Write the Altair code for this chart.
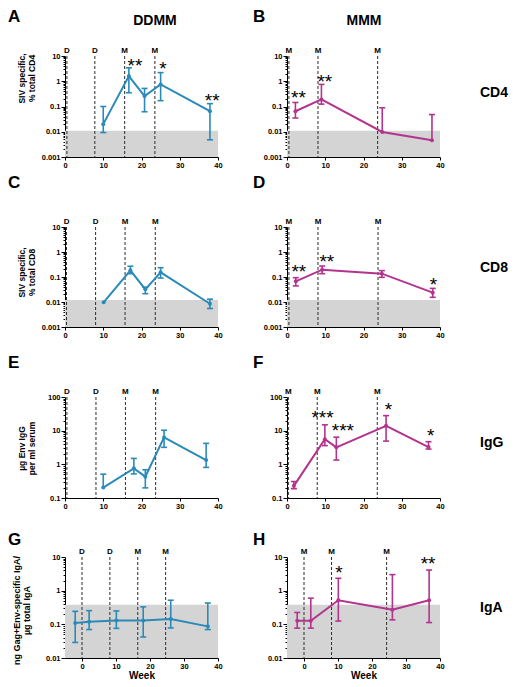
import altair as alt
import pandas as pd

FONT = "Liberation Sans"
BLUE = "#2a8ab8"
MAGENTA = "#b2348f"
SHADE = "#d4d4d4"
DASH = "#2b2b2b"

X_TICKS = [0, 10, 20, 30, 40]

# ---------------- A : DDMM / CD4 ----------------
A_week = [10, 16.7, 20.8, 25.0, 37.9]
A_val = [0.02, 1.6, 0.26, 0.75, 0.065]
A_hi = [0.1, 3.4, 0.52, 2.2, 0.13]
A_lo = [0.0093, 0.35, 0.062, 0.17, 0.0048]
A_vline = [0.5, 7.8, 15.6, 23.5]
A_vlab = ["D", "D", "M", "M"]
A_star = ["**", "*", "**"]
A_star_week = [18.3, 25.6, 38.5]
A_star_y = [6.5, 4.7, 0.26]

# ---------------- B : MMM / CD4 ----------------
B_week = [2.2, 9.0, 24.9, 37.9]
B_val = [0.065, 0.19, 0.0098, 0.0046]
B_hi = [0.144, 0.75, 0.089, 0.048]
B_lo = [0.035, 0.124, 0.0098, 0.0046]
B_vline = [0.5, 8.1, 23.7]
B_vlab = ["M", "M", "M"]
B_star = ["**", "**"]
B_star_week = [3.0, 9.9]
B_star_y = [0.34, 1.47]

# ---------------- C : DDMM / CD8 ----------------
C_week = [10.1, 17.1, 21.0, 25.0, 37.9]
C_val = [0.0097, 0.185, 0.032, 0.154, 0.0085]
C_hi = [0.0097, 0.27, 0.039, 0.236, 0.013]
C_lo = [0.0097, 0.136, 0.0215, 0.091, 0.0055]
C_vline = [0.4, 8.0, 15.7, 23.6]
C_vlab = ["D", "D", "M", "M"]
C_star = []
C_star_week = []
C_star_y = []

# ---------------- D : MMM / CD8 ----------------
D_week = [2.3, 9.2, 24.8, 38.1]
D_val = [0.067, 0.196, 0.136, 0.0236]
D_hi = [0.094, 0.275, 0.18, 0.035]
D_lo = [0.044, 0.136, 0.097, 0.0154]
D_vline = [0.5, 8.1, 23.8]
D_vlab = ["M", "M", "M"]
D_star = ["**", "**", "*"]
D_star_week = [3.1, 10.4, 38.3]
D_star_y = [0.24, 0.63, 0.074]

# ---------------- E : DDMM / IgG ----------------
E_week = [10.0, 18.0, 21.0, 25.9, 36.9]
E_val = [0.204, 0.76, 0.43, 6.3, 1.34]
E_hi = [0.51, 1.5, 0.69, 10.3, 4.2]
E_lo = [0.204, 0.52, 0.2, 3.2, 0.81]
E_vline = [0.5, 8.1, 15.8, 23.7]
E_vlab = ["D", "D", "M", "M"]
E_star = []
E_star_week = []
E_star_y = []

# ---------------- F : MMM / IgG ----------------
F_week = [1.8, 9.9, 12.9, 25.9, 37.0]
F_val = [0.23, 5.6, 3.2, 13.9, 3.25]
F_hi = [0.31, 14.9, 6.4, 28.0, 4.7]
F_lo = [0.19, 3.6, 1.34, 4.9, 2.84]
F_vline = [0.35, 7.9, 23.6]
F_vlab = ["M", "M", "M"]
F_star = ["***", "***", "*", "*"]
F_star_week = [9.3, 14.6, 26.5, 37.6]
F_star_y = [33.6, 13.6, 59.0, 9.7]

# ---------------- G : DDMM / IgA ----------------
G_week = [-2.0, 2.1, 10.1, 18.0, 26.1, 37.0]
G_val = [0.11, 0.12, 0.13, 0.13, 0.144, 0.087]
G_hi = [0.243, 0.255, 0.25, 0.33, 0.52, 0.43]
G_lo = [0.029, 0.07, 0.076, 0.042, 0.078, 0.07]
G_vline = [0.0, 8.2, 16.4, 24.6]
G_vlab = ["D", "D", "M", "M"]
G_star = []
G_star_week = []
G_star_y = []

# ---------------- H : MMM / IgA ----------------
H_week = [-2.0, 2.0, 10.1, 26.0, 36.8]
H_val = [0.127, 0.127, 0.52, 0.27, 0.52]
H_hi = [0.225, 0.6, 2.33, 3.0, 4.1]
H_lo = [0.077, 0.077, 0.125, 0.136, 0.113]
H_vline = [0.0, 8.1, 24.3]
H_vlab = ["M", "M", "M"]
H_star = ["*", "**"]
H_star_week = [10.3, 36.5]
H_star_y = [4.8, 8.5]

# axis ranges / shaded limit-of-detection bands
CD_ydom = [0.001, 10]
CD_major = [0.001, 0.01, 0.1, 1, 10]
IgG_ydom = [0.1, 100]
IgG_major = [0.1, 1, 10, 100]
IgA_ydom = [0.01, 10]
IgA_major = [0.01, 0.1, 1, 10]
CD4_shade = 0.011
CD8_shade = 0.012
IgA_shade = 0.38

W = 153


def minor_ticks(majors):
    out = []
    for m in majors[:-1]:
        out += [m * k for k in range(2, 10)]
    return out


def panel(letter, week, val, hi, lo, vline, vlab, star, star_week, star_y,
          color, xdom, ydom, ymajor, shade, height, top_ext, letter_y, left,
          ytitle=None, ytitle_y=None, ytitle_x=-39, ytitle_size=8.5,
          col_title=None, col_x=None, row_label=None, row_y=None, xtitle=None):
    H = height
    Lx = 57 if left else 36
    Rx = 33 if left else 69
    xs = alt.Scale(domain=xdom, nice=False, zero=False)
    ys = alt.Scale(type="log", domain=ydom, nice=False)
    xaxis_kw = dict(values=X_TICKS, labelFlush=False, tickSize=3, labelPadding=1,
                    titlePadding=1, titleFontSize=10, title=xtitle)
    xaxis = alt.Axis(**xaxis_kw)

    def X(field):
        return alt.X(field, type="quantitative", scale=xs, axis=xaxis)

    layers = []
    # layout spacer (invisible)
    layers.append(alt.Chart(pd.DataFrame({"s": [0]})).mark_rect(opacity=0).encode(
        x=alt.value(-Lx), x2=alt.value(W + Rx), y=alt.value(-top_ext), y2=alt.value(H + 16)))

    if shade is not None:
        sdf = pd.DataFrame({"x0": [xdom[0]], "x1": [xdom[1]], "y0": [ydom[0]], "y1": [shade]})
        layers.append(alt.Chart(sdf).mark_rect(color=SHADE).encode(
            x=X("x0"), x2="x1",
            y=alt.Y("y0:Q", scale=ys, axis=None), y2="y1"))

    vdf = pd.DataFrame({"week": vline, "lab": vlab})
    layers.append(alt.Chart(vdf).mark_rule(color=DASH, strokeWidth=1, strokeDash=[3, 2]).encode(
        x=X("week")))
    layers.append(alt.Chart(vdf).mark_text(font=FONT, fontSize=8, fontWeight="bold",
                                           baseline="alphabetic", align="center", color="black").encode(
        x=X("week"), y=alt.value(-3), text="lab:N"))

    pts = pd.DataFrame({"week": week, "val": val, "hi": hi, "lo": lo})
    err = pts[(pts["hi"] > pts["val"]) | (pts["lo"] < pts["val"])]
    layers.append(alt.Chart(err).mark_rule(color=color, strokeWidth=1.6).encode(
        x=X("week"), y=alt.Y("lo:Q", scale=ys, axis=None), y2="hi:Q"))
    cap_w, cap_y = [], []
    for w, v, h, l in zip(week, val, hi, lo):
        if h > v:
            cap_w.append(w); cap_y.append(h)
        if l < v:
            cap_w.append(w); cap_y.append(l)
    cdf = pd.DataFrame({"week": cap_w, "cap": cap_y})
    layers.append(alt.Chart(cdf).mark_tick(color=color, orient="horizontal", size=6,
                                           thickness=1.6, opacity=1).encode(
        x=X("week"), y=alt.Y("cap:Q", scale=ys, axis=None)))

    yaxis_kw = dict(values=ymajor, format="~g", tickSize=4, labelPadding=1, orient="left",
                    grid=False, labelFlush=False)
    if ytitle is not None:
        yaxis_kw.update(title=ytitle, titleX=ytitle_x, titleY=ytitle_y, titleAngle=270,
                        titleBaseline="bottom", titleAlign="center",
                        titleFontSize=ytitle_size, titleLineHeight=10)
    else:
        yaxis_kw.update(title=None)
    layers.append(alt.Chart(pts).mark_line(color=color, strokeWidth=2).encode(
        x=X("week"), y=alt.Y("val:Q", scale=ys, axis=alt.Axis(**yaxis_kw))))
    layers.append(alt.Chart(pts).mark_point(color=color, filled=True, size=16, opacity=1).encode(
        x=X("week"), y=alt.Y("val:Q", scale=ys, axis=None)))

    if star:
        sdf2 = pd.DataFrame({"week": star_week, "y": star_y, "t": star})
        layers.append(alt.Chart(sdf2).mark_text(font=FONT, fontSize=19, color="black",
                                                baseline="alphabetic", align="center", dy=11).encode(
            x=X("week"), y=alt.Y("y:Q", scale=ys, axis=None), text="t:N"))

    # minor log ticks
    mdf = pd.DataFrame({"m": minor_ticks(ymajor)})
    layers.append(alt.Chart(mdf).mark_point(opacity=0).encode(
        x=alt.value(0),
        y=alt.Y("m:Q", scale=ys, axis=alt.Axis(values=minor_ticks(ymajor), labels=False, tickSize=2,
                                                domain=False, title=None, orient="left", grid=False))))

    # panel letter
    layers.append(alt.Chart(pd.DataFrame({"t": [letter]})).mark_text(
        font=FONT, fontSize=17, fontWeight="bold", align="left", baseline="alphabetic", color="black").encode(
        x=alt.value(-Lx if left else -34), y=alt.value(letter_y), text="t:N"))
    if col_title is not None:
        layers.append(alt.Chart(pd.DataFrame({"t": [col_title]})).mark_text(
            font=FONT, fontSize=14, fontWeight="bold", align="center", baseline="alphabetic", color="black").encode(
            x=alt.value(col_x), y=alt.value(-31), text="t:N"))
    if row_label is not None:
        layers.append(alt.Chart(pd.DataFrame({"t": [row_label]})).mark_text(
            font=FONT, fontSize=14, fontWeight="bold", align="left", baseline="alphabetic", color="black").encode(
            x=alt.value(193), y=alt.value(row_y), text="t:N"))

    return alt.layer(*layers).resolve_axis(y="independent").properties(width=W, height=H)


pA = panel("A", A_week, A_val, A_hi, A_lo, A_vline, A_vlab, A_star, A_star_week, A_star_y,
           BLUE, [0, 40], CD_ydom, CD_major, CD4_shade, 101, 48, -34, True,
           ytitle=["SIV specific,", "% total CD4"], ytitle_y=22, col_title="DDMM", col_x=90)
pB = panel("B", B_week, B_val, B_hi, B_lo, B_vline, B_vlab, B_star, B_star_week, B_star_y,
           MAGENTA, [0, 40], CD_ydom, CD_major, CD4_shade, 101, 48, -34, False,
           col_title="MMM", col_x=77, row_label="CD4", row_y=41)
pC = panel("C", C_week, C_val, C_hi, C_lo, C_vline, C_vlab, C_star, C_star_week, C_star_y,
           BLUE, [0, 40], CD_ydom, CD_major, CD8_shade, 100, 54, -39, True,
           ytitle=["SIV specific,", "% total CD8"], ytitle_y=45)
pD = panel("D", D_week, D_val, D_hi, D_lo, D_vline, D_vlab, D_star, D_star_week, D_star_y,
           MAGENTA, [0, 40], CD_ydom, CD_major, CD8_shade, 100, 54, -39, False,
           row_label="CD8", row_y=45)
pE = panel("E", E_week, E_val, E_hi, E_lo, E_vline, E_vlab, E_star, E_star_week, E_star_y,
           BLUE, [0, 40], IgG_ydom, IgG_major, None, 101, 54, -29, True,
           ytitle=["\u00b5g Env IgG", "per ml serum"], ytitle_y=51)
pF = panel("F", F_week, F_val, F_hi, F_lo, F_vline, F_vlab, F_star, F_star_week, F_star_y,
           MAGENTA, [0, 40], IgG_ydom, IgG_major, None, 101, 54, -29, False,
           row_label="IgG", row_y=50)
pG = panel("G", G_week, G_val, G_hi, G_lo, G_vline, G_vlab, G_star, G_star_week, G_star_y,
           BLUE, [-5, 40], IgA_ydom, IgA_major, IgA_shade, 101, 43, -12, True,
           ytitle=["ng Gag+Env-specific IgA/", "\u00b5g total IgA"], ytitle_y=53, ytitle_x=-44,
           ytitle_size=9, xtitle="Week")
pH = panel("H", H_week, H_val, H_hi, H_lo, H_vline, H_vlab, H_star, H_star_week, H_star_y,
           MAGENTA, [-5, 40], IgA_ydom, IgA_major, IgA_shade, 101, 43, -12, False,
           row_label="IgA", row_y=55, xtitle="Week")

chart = alt.concat(pA, pB, pC, pD, pE, pF, pG, pH, columns=2, spacing=0,
                   bounds="full", align="each").properties(padding=0)

chart = chart.configure_view(stroke=None).configure_axis(
    labelFont=FONT, labelFontSize=7.5, labelFontWeight="bold", labelColor="black",
    titleFont=FONT, titleFontWeight="bold", titleColor="black",
    domainColor="black", tickColor="black", domainWidth=1, tickWidth=1, grid=False)

chart.save("out.html", embed_options={"renderer": "svg", "actions": False})
